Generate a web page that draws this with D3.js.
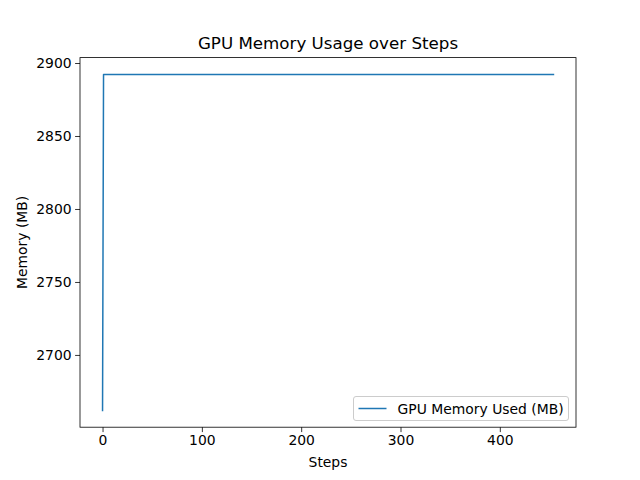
<!DOCTYPE html>
<html>
<head>
<meta charset="utf-8">
<script src="https://d3js.org/d3.v7.min.js"></script>
<style>
  html, body { margin: 0; padding: 0; background: #fff; }
  svg { display: block; }
  text { font-family: "DejaVu Sans", sans-serif; fill: #000; }
</style>
</head>
<body>
<svg id="chart" width="640" height="480"></svg>
<script>
// Data
const steps = [0, 1, 454];
const memoryMB = [2662.0, 2892.2, 2892.2];
const xTicks = [0, 100, 200, 300, 400];
const yTicks = [2700, 2750, 2800, 2850, 2900];
const titleText = "GPU Memory Usage over Steps";
const xLabel = "Steps";
const yLabel = "Memory (MB)";
const seriesName = "GPU Memory Used (MB)";

(function () {
const W = 640, H = 480;
const pLeft = 80, pRight = 576, pTop = 57.6, pBottom = 427.2;
const svg = d3.select("#chart");

const xmin = d3.min(steps), xmax = d3.max(steps);
const ymin = d3.min(memoryMB), ymax = d3.max(memoryMB);
const xm = (xmax - xmin) * 0.05, ym = (ymax - ymin) * 0.05;
const x = d3.scaleLinear().domain([xmin - xm, xmax + xm]).range([pLeft, pRight]);
const y = d3.scaleLinear().domain([ymin - ym, ymax + ym]).range([pBottom, pTop]);

const fs = 13.9;

// Line
const pts = steps.map((s, i) => [s, memoryMB[i]]);
svg.append("path")
  .datum(pts)
  .attr("d", d3.line().x(d => x(d[0])).y(d => y(d[1])))
  .attr("fill", "none")
  .attr("stroke", "#1f77b4")
  .attr("stroke-width", 1.5)
  .attr("stroke-linejoin", "round")
  .attr("stroke-linecap", "square");

// Axes
const xAxis = d3.axisBottom(x).tickValues(xTicks).tickSize(4.9).tickPadding(3.5).tickFormat(d3.format("d"));
const yAxis = d3.axisLeft(y).tickValues(yTicks).tickSize(4.9).tickPadding(3.5).tickFormat(d3.format("d"));

const gx = svg.append("g").attr("transform", `translate(0,${pBottom})`).call(xAxis);
const gy = svg.append("g").attr("transform", `translate(${pLeft},0)`).call(yAxis);
[gx, gy].forEach(g => {
  g.select(".domain").remove();
  g.selectAll(".tick line").attr("stroke", "#000").attr("stroke-width", 0.8);
  g.selectAll(".tick text").attr("font-size", fs).attr("font-family", "DejaVu Sans").attr("fill", "#000");
});

// Frame
svg.append("rect")
  .attr("x", pLeft).attr("y", pTop)
  .attr("width", pRight - pLeft).attr("height", pBottom - pTop)
  .attr("fill", "none").attr("stroke", "#000").attr("stroke-width", 0.8);

// Title
svg.append("text")
  .attr("x", (pLeft + pRight) / 2).attr("y", pTop - 8.3)
  .attr("text-anchor", "middle")
  .attr("font-size", 16.7)
  .text(titleText);

// Axis labels
svg.append("text")
  .attr("x", (pLeft + pRight) / 2).attr("y", 467)
  .attr("text-anchor", "middle")
  .attr("font-size", fs)
  .text(xLabel);

svg.append("text")
  .attr("transform", `translate(27,${(pTop + pBottom) / 2}) rotate(-90)`)
  .attr("text-anchor", "middle")
  .attr("font-size", fs)
  .text(yLabel);

// Legend
const lg = svg.append("g");
const lx = 353.5, ly = 396.5, lw = 215, lh = 24;
lg.append("rect")
  .attr("x", lx).attr("y", ly).attr("width", lw).attr("height", lh)
  .attr("rx", 2.5).attr("ry", 2.5)
  .attr("fill", "#fff").attr("fill-opacity", 0.8)
  .attr("stroke", "#cccccc").attr("stroke-width", 1);
lg.append("line")
  .attr("x1", lx + 5).attr("x2", lx + 33)
  .attr("y1", ly + lh / 2).attr("y2", ly + lh / 2)
  .attr("stroke", "#1f77b4").attr("stroke-width", 1.5);
lg.append("text")
  .attr("x", lx + 44).attr("y", ly + lh / 2 + 5)
  .attr("font-size", fs)
  .text(seriesName);
})();
</script>
</body>
</html>
